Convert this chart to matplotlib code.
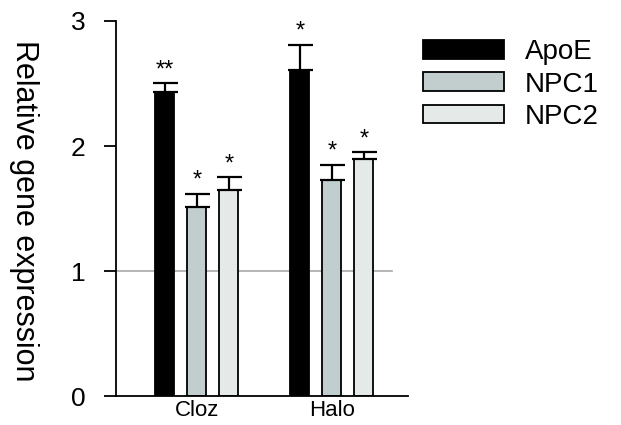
import matplotlib
matplotlib.use("Agg")
import numpy as np
import matplotlib.pyplot as plt

plt.rcParams['font.family'] = ['Liberation Sans', 'DejaVu Sans']

# data
groups = ["Cloz", "Halo"]
genes = ["ApoE", "NPC1", "NPC2"]
apoe = [2.43, 2.61]
npc1 = [1.51, 1.73]
npc2 = [1.65, 1.90]
apoe_err = [0.07, 0.20]
npc1_err = [0.11, 0.12]
npc2_err = [0.10, 0.05]
stars = [["**", "*"], ["*", "*"], ["*", "*"]]

colors = ["#000000", "#c2cdcd", "#e5eae9"]
values = [apoe, npc1, npc2]
errors = [apoe_err, npc1_err, npc2_err]

fig = plt.figure(figsize=(6.21, 4.25), dpi=100)
ax = fig.add_axes([0.1868, 0.0682, 0.470, 0.8824])

x = np.arange(len(groups))
width = 0.141
offset = 0.237

ax.plot([-0.6, 1.444], [1, 1], color="#a8a8a8", lw=1.2, zorder=1)

for i, (vals, errs, col) in enumerate(zip(values, errors, colors)):
    pos = x + (i - 1) * offset
    ax.bar(pos, vals, width, color=col, edgecolor="black", linewidth=1.3,
           label=genes[i], zorder=2)
    ax.errorbar(pos, vals, yerr=[np.zeros(len(errs)), errs], fmt="none",
                ecolor="black", elinewidth=1.6, capsize=9, capthick=1.6, zorder=3)
    for p, v, e, s in zip(pos, vals, errs, stars[i]):
        ax.text(p, v + e + 0.015, s, ha="center", va="bottom", fontsize=17)

ax.set_xlim(-0.6, 1.563)
ax.set_ylim(0, 3)
ax.set_yticks([0, 1, 2, 3])
ax.set_xticks(x)
ax.set_xticklabels(groups, fontsize=16)
ax.tick_params(axis="x", length=0, pad=3)
ax.tick_params(axis="y", length=9, width=1.3, labelsize=19, pad=13)
for s in ["top", "right"]:
    ax.spines[s].set_visible(False)
for s in ["left", "bottom"]:
    ax.spines[s].set_linewidth(1.3)

fig.text(24 / 621, 0.503, "Relative gene expression", fontsize=22, rotation=270,
         ha="center", va="center")

ax.legend(loc="upper left", bbox_to_anchor=(0.658, 0.94), bbox_transform=fig.transFigure,
          frameon=False, fontsize=20, handlelength=2.95, handleheight=0.65,
          handletextpad=0.72, labelspacing=0.22, borderpad=0)

fig.savefig("out.png", dpi=100)
